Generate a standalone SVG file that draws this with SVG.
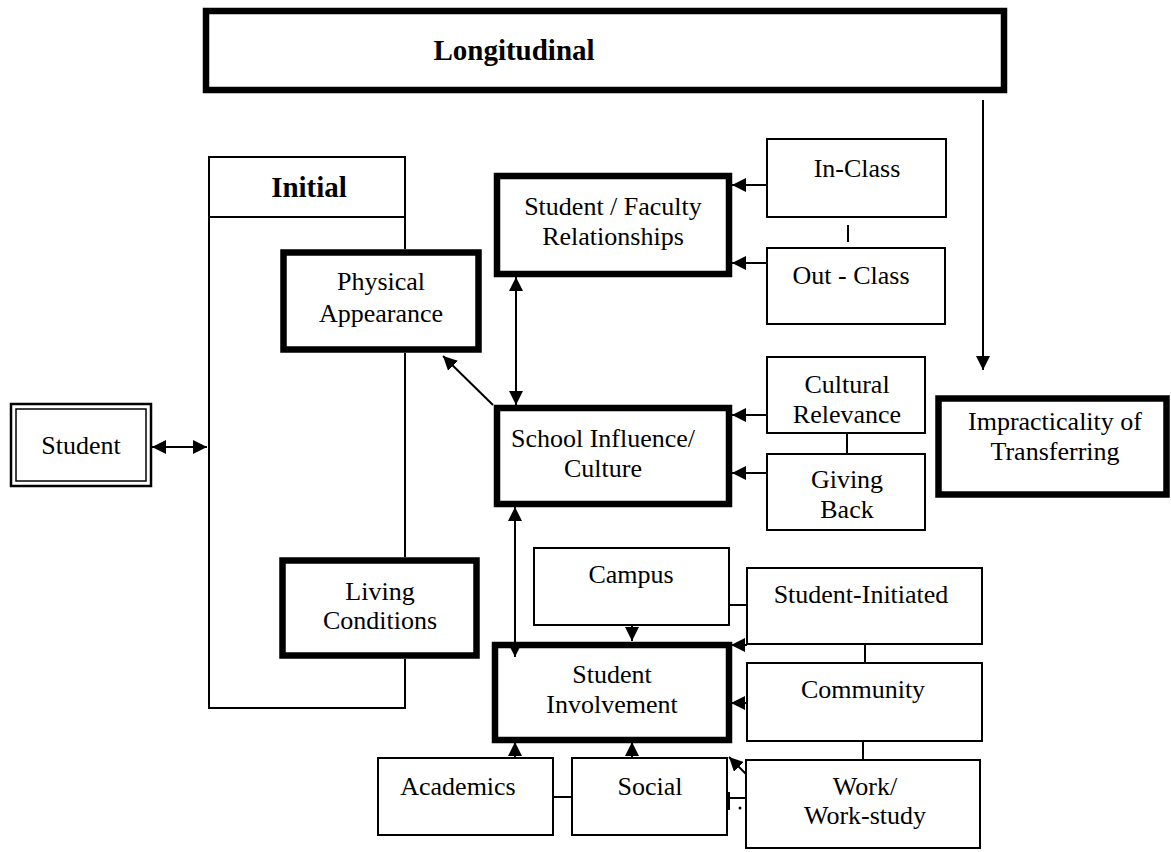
<svg xmlns="http://www.w3.org/2000/svg" width="1171" height="852" viewBox="0 0 1171 852">
<style>
text{font-family:"Liberation Serif","Times New Roman",serif;font-size:26px;fill:#000;text-anchor:middle}
.b{font-weight:bold;font-size:29px}
.thick{fill:#fff;stroke:#000;stroke-width:6.5}
.thin{fill:#fff;stroke:#000;stroke-width:2}
.ln{fill:none;stroke:#000;stroke-width:2}
.ar{fill:none;stroke:#000;stroke-width:2;marker-end:url(#ah)}
.ar2{fill:none;stroke:#000;stroke-width:2;marker-end:url(#ah);marker-start:url(#ah)}
</style>
<defs>
<marker id="ah" viewBox="0 0 14 14" refX="14" refY="7" markerWidth="14" markerHeight="14" markerUnits="userSpaceOnUse" orient="auto-start-reverse"><path d="M0,0 L14,7 L0,14 z" fill="#000"/></marker>
</defs>
<rect width="1171" height="852" fill="#fff"/>
<g id="longitudinal"><rect class="thick" x="206" y="11" width="798" height="79"/><text class="b" x="514" y="60">Longitudinal</text></g>
<g id="initial">
<rect class="thin" x="209" y="157" width="196" height="60"/>
<path class="ln" d="M209,217 V708 H405 V659 M405,557 V353 M405,249 V217"/>
<text class="b" x="309" y="197">Initial</text>
</g>
<g id="student"><rect x="11" y="404" width="140" height="82" fill="#fff" stroke="#000" stroke-width="2.5"/><rect x="16" y="409" width="130" height="72" fill="none" stroke="#000" stroke-width="1.5"/><text x="81" y="454">Student</text></g>
<g id="physical"><rect class="thick" x="283.5" y="252.5" width="195" height="97" stroke-width="7"/><text x="381" y="290">Physical</text><text x="381" y="322">Appearance</text></g>
<g id="living"><rect class="thick" x="282.5" y="560.5" width="194" height="95" stroke-width="7"/><text x="380" y="600">Living</text><text x="380" y="629">Conditions</text></g>
<g id="sf"><rect class="thick" x="497" y="176" width="232" height="98"/><text x="613" y="215">Student / Faculty</text><text x="613" y="245">Relationships</text></g>
<g id="inclass"><rect class="thin" x="767" y="139" width="179" height="78"/><text x="857" y="177">In-Class</text></g>
<g id="outclass"><rect class="thin" x="767" y="248" width="178" height="76"/><text x="851" y="284">Out - Class</text></g>
<g id="school"><rect class="thick" x="497" y="408" width="232" height="96"/><text x="603" y="447">School Influence/</text><text x="603" y="477">Culture</text></g>
<g id="cultural"><rect class="thin" x="767" y="357" width="158" height="76"/><text x="847" y="393">Cultural</text><text x="847" y="423">Relevance</text></g>
<g id="giving"><rect class="thin" x="767" y="454" width="158" height="76"/><text x="847" y="488">Giving</text><text x="847" y="518">Back</text></g>
<g id="impracticality"><rect class="thick" x="938.5" y="398.5" width="228" height="96" stroke-width="7"/><text x="1055" y="430">Impracticality of</text><text x="1055" y="460">Transferring</text></g>
<g id="campus"><rect class="thin" x="534" y="548" width="195" height="77"/><text x="631" y="583">Campus</text></g>
<g id="studentinitiated"><rect class="thin" x="747" y="568" width="235" height="76"/><text x="861" y="603">Student-Initiated</text></g>
<g id="involvement"><rect class="thick" x="495" y="645" width="234" height="95"/><text x="612" y="683">Student</text><text x="612" y="713">Involvement</text></g>
<g id="community"><rect class="thin" x="747" y="663" width="235" height="78"/><text x="863" y="698">Community</text></g>
<g id="work"><rect class="thin" x="746" y="760" width="234" height="88"/><text x="865" y="795">Work/</text><text x="865" y="824">Work-study</text></g>
<g id="academics"><rect class="thin" x="378" y="758" width="175" height="77"/><text x="458" y="795">Academics</text></g>
<g id="social"><rect class="thin" x="572" y="758" width="155" height="77"/><text x="650" y="795">Social</text></g>
<g id="connectors">
<path class="ar2" d="M152,447 H207"/>
<path class="ar2" d="M516,277 V405"/>
<path class="ar" d="M493,405 L443,356"/>
<path class="ar" d="M767,185 H732"/>
<path class="ar" d="M767,263 H732"/>
<path class="ln" d="M848,225 V242"/>
<path class="ar" d="M767,415 H732"/>
<path class="ar" d="M767,473 H732"/>
<path class="ln" d="M847,433 V454"/>
<path class="ar" d="M983,100 V370"/>
<path class="ar2" d="M515,507 V657"/>
<path class="ar" d="M632,625 V641"/>
<path class="ar" d="M747,645 H731"/>
<path class="ar" d="M747,703 H731"/>
<path class="ln" d="M729,605 H747"/>
<path class="ln" d="M865,644 V663"/>
<path class="ln" d="M863,741 V760"/>
<path class="ar" d="M515,758 V742"/>
<path class="ar" d="M632,758 V742"/>
<path class="ln" d="M553,797 H572"/>
<path class="ar" d="M746,774 L729,757"/>
<path class="ln" d="M727,798 H746"/>
<path class="ln" d="M729,792 V810" stroke-width="3"/>
<circle cx="740" cy="808" r="1.5" fill="#000"/>
</g>
</svg>
